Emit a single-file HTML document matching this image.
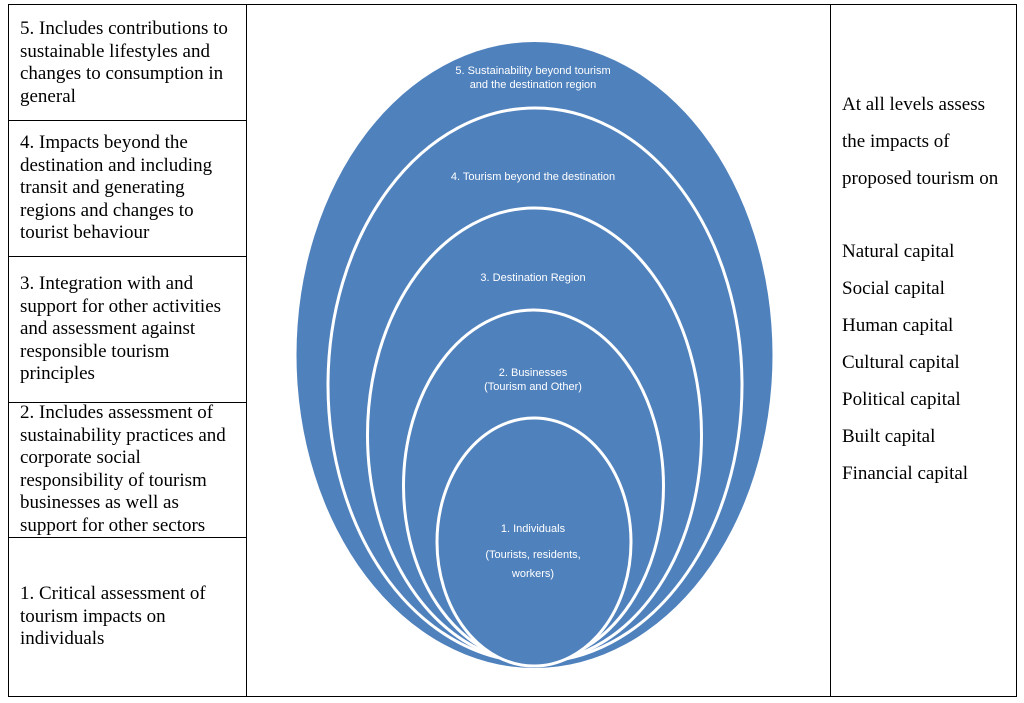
<!DOCTYPE html>
<html><head><meta charset="utf-8"><style>
body{margin:0;background:#fff;width:1024px;height:703px;position:relative;font-family:"Liberation Serif",serif;color:#000;overflow:hidden}
.l{position:absolute;left:20px;font-size:19px;line-height:22.5px;width:224px}
.r{position:absolute;left:842px;font-size:19px;line-height:37px;white-space:nowrap}
.ln{position:absolute;background:#000}
svg text{font-family:"Liberation Sans",sans-serif;font-size:11px;fill:#fff;text-anchor:middle}
</style></head><body>
<div class="ln" style="left:8px;top:4px;width:1009px;height:1px"></div>
<div class="ln" style="left:8px;top:696px;width:1009px;height:1px"></div>
<div class="ln" style="left:8px;top:4px;width:1px;height:693px"></div>
<div class="ln" style="left:246px;top:4px;width:1px;height:693px"></div>
<div class="ln" style="left:830px;top:4px;width:1px;height:693px"></div>
<div class="ln" style="left:1016px;top:4px;width:1px;height:693px"></div>
<div class="ln" style="left:8px;top:120px;width:239px;height:1px"></div>
<div class="ln" style="left:8px;top:256px;width:239px;height:1px"></div>
<div class="ln" style="left:8px;top:402px;width:239px;height:1px"></div>
<div class="ln" style="left:8px;top:537px;width:239px;height:1px"></div>

<div class="l" style="top:18px">5. Includes contributions to<br>sustainable lifestyles and<br>changes to consumption in<br>general</div>
<div class="l" style="top:132px">4. Impacts beyond the<br>destination and including<br>transit and generating<br>regions and changes to<br>tourist behaviour</div>
<div class="l" style="top:273px">3. Integration with and<br>support for other activities<br>and assessment against<br>responsible tourism<br>principles</div>
<div class="l" style="top:402px">2. Includes assessment of<br>sustainability practices and<br>corporate social<br>responsibility of tourism<br>businesses as well as<br>support for other sectors</div>
<div class="l" style="top:583px">1. Critical assessment of<br>tourism impacts on<br>individuals</div>

<div class="r" style="top:86px">At all levels assess<br>the impacts of<br>proposed tourism on</div>
<div class="r" style="top:233px">Natural capital<br>Social capital<br>Human capital<br>Cultural capital<br>Political capital<br>Built capital<br>Financial capital</div>

<svg width="1024" height="703" style="position:absolute;left:0;top:0">
<ellipse cx="534.5" cy="355" rx="238" ry="313" fill="#4f81bd"/>
<ellipse cx="535" cy="385" rx="207" ry="277" fill="#4f81bd" stroke="#fff" stroke-width="3"/>
<ellipse cx="534.5" cy="435" rx="167" ry="227" fill="#4f81bd" stroke="#fff" stroke-width="3"/>
<ellipse cx="533.5" cy="486" rx="130" ry="176" fill="#4f81bd" stroke="#fff" stroke-width="3"/>
<ellipse cx="534" cy="542" rx="97" ry="124" fill="#4f81bd" stroke="#fff" stroke-width="3"/>
<text x="533" y="74">5. Sustainability beyond tourism</text>
<text x="533" y="88">and the destination region</text>
<text x="533" y="180">4. Tourism beyond the destination</text>
<text x="533" y="281">3. Destination Region</text>
<text x="533" y="376">2. Businesses</text>
<text x="533" y="390">(Tourism and Other)</text>
<text x="533" y="532">1. Individuals</text>
<text x="533" y="558">(Tourists, residents,</text>
<text x="533" y="577">workers)</text>
</svg>
</body></html>
